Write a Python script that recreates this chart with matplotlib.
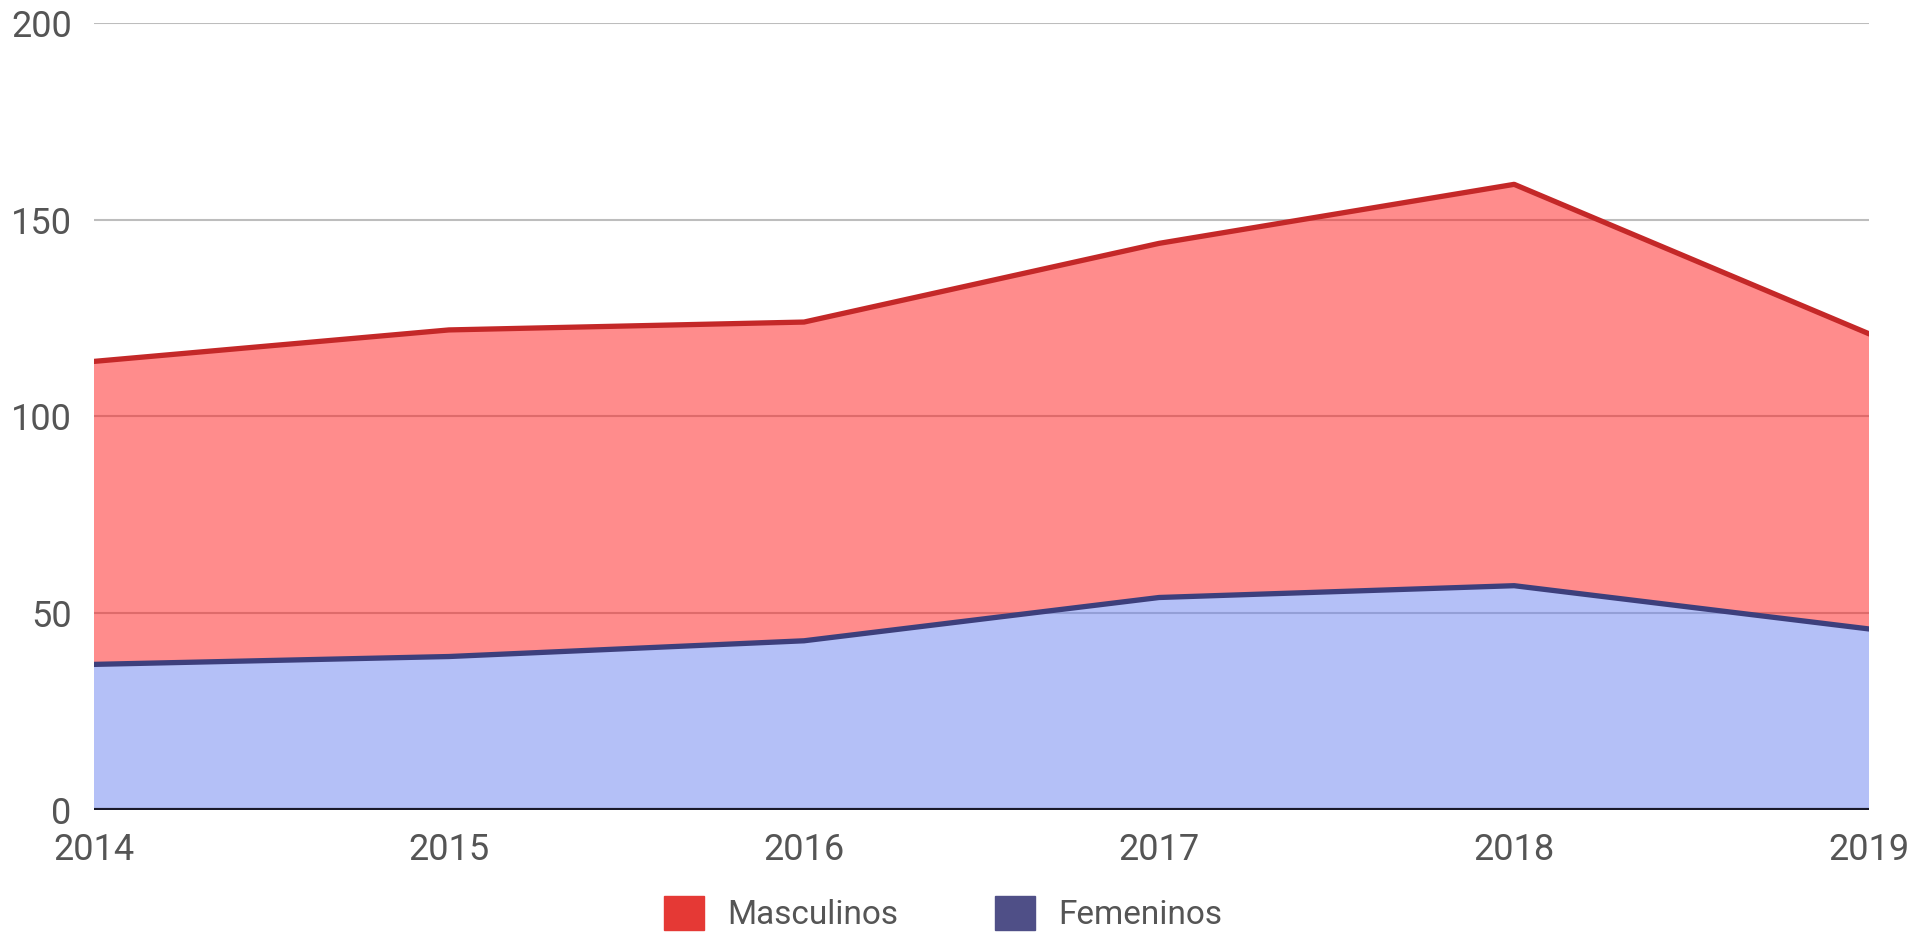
import matplotlib.pyplot as plt
import numpy as np

plt.rcParams['font.family'] = ['Roboto', 'DejaVu Sans']

years = [2014, 2015, 2016, 2017, 2018, 2019]
femeninos = [37, 39, 43, 54, 57, 46]
masculinos = [77, 83, 81, 90, 102, 75]
y_ticks = [0, 50, 100, 150, 200]

total = np.array(femeninos) + np.array(masculinos)

fig = plt.figure(figsize=(19.33, 9.39), dpi=100)
ax = fig.add_axes([0.0486, 0.1374, 0.9184, 0.8381])

# relleno semitransparente, la rejilla queda debajo
ax.stackplot(years, femeninos, masculinos,
             colors=['#6b82f0', '#ff1a1a'], alpha=0.5, zorder=2)
ax.plot(years, femeninos, color='#3d3f7c', lw=3.8, zorder=3)
ax.plot(years, total, color='#c42828', lw=3.8, zorder=3)

ax.set_xlim(2014, 2019)
ax.set_ylim(0, 200)
ax.set_xticks(years)
ax.set_yticks(y_ticks)
ax.grid(axis='y', color='#bdbdbd', lw=1.5, zorder=0)
ax.grid(axis='x', visible=False)
ax.axhline(0, color='#1a1a2a', lw=3, zorder=4)
for s in ax.spines.values():
    s.set_visible(False)
ax.tick_params(length=0, labelsize=26, colors='#555555')
ax.tick_params(axis='y', pad=16)
ax.tick_params(axis='x', pad=16)

h1 = plt.Rectangle((0, 0), 1, 1, color='#e53935')
h2 = plt.Rectangle((0, 0), 1, 1, color='#4f4f87')
fig.legend([h1, h2], ['Masculinos', 'Femeninos'], loc='center',
           bbox_to_anchor=(0.488, 0.027), ncol=2, frameon=False,
           fontsize=24, labelcolor='#555555', handlelength=1.2,
           handleheight=1.2, columnspacing=2.9, handletextpad=0.7)

fig.savefig('out.png', dpi=100)
